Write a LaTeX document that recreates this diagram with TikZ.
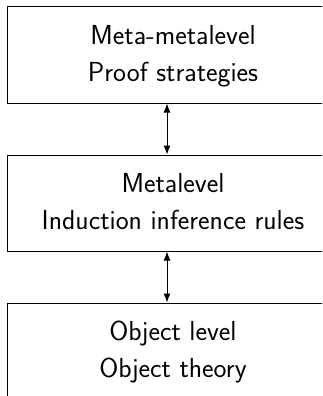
\documentclass[tikz,border=0pt]{standalone}
\usetikzlibrary{arrows.meta}
\begin{document}
\begin{tikzpicture}[x=1pt,y=-1pt,
  leveltext/.style={align=center, inner sep=0pt, yshift=-1.5pt,
    font=\sffamily\fontsize{27.5}{37}\selectfont},
  levelbox/.style={draw, line width=1pt, minimum width=332pt, minimum height=96pt,
    inner sep=0pt, label={[leveltext]center:#1}},
  link/.style={{Latex[length=9pt,width=7pt]}-{Latex[length=9pt,width=7pt]}, line width=1pt}]
\useasboundingbox (0,0) rectangle (322,396);
\clip (0,0) rectangle (322,396);
\node[levelbox={Meta-metalevel\\Proof strategies\vphantom{gy}}] (meta2) at (173,55) {};
\node[levelbox={Metalevel\\Induction inference rules\vphantom{gy}}] (meta) at (173,203) {};
\node[levelbox={Object level\\Object theory\vphantom{gy}}] (obj) at (173,351) {};
\draw[link] ([xshift=-6pt]meta2.south) -- ([xshift=-6pt]meta.north);
\draw[link] ([xshift=-6pt]meta.south) -- ([xshift=-6pt]obj.north);
\end{tikzpicture}
\end{document}
